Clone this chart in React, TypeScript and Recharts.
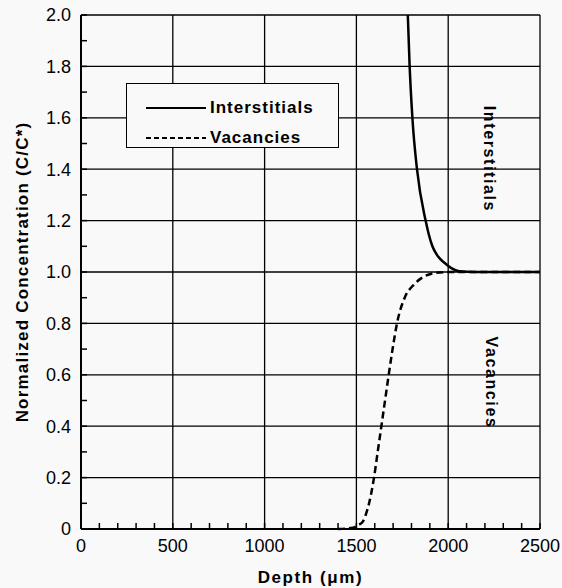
import { LineChart, Line, XAxis, YAxis, CartesianGrid, Legend, ReferenceDot } from "recharts";

// depth in um, concentration normalised to C*
const interDepth = [1780, 1790, 1805, 1830, 1877, 1893, 1914, 1945, 1981, 2017, 2060, 2150, 2500];
const interConc = [2.0, 1.8, 1.6, 1.4, 1.2, 1.15, 1.1, 1.06, 1.035, 1.015, 1.003, 1.0, 1.0];

const vacDepth = [1400, 1480, 1510, 1536, 1553, 1569, 1596, 1616, 1636, 1656, 1676, 1697, 1721, 1763, 1812, 1863, 1920, 2000, 2500];
const vacConc = [0, 0.005, 0.015, 0.03, 0.06, 0.1, 0.2, 0.3, 0.4, 0.5, 0.6, 0.7, 0.8, 0.9, 0.95, 0.98, 0.995, 1.0, 1.0];

const xMajor = [0, 500, 1000, 1500, 2000, 2500];
const yMajor = [0, 0.2, 0.4, 0.6, 0.8, 1.0, 1.2, 1.4, 1.6, 1.8, 2.0];
const xMinor = [0, 100, 200, 300, 400, 500, 600, 700, 800, 900, 1000, 1100, 1200, 1300, 1400, 1500, 1600, 1700, 1800, 1900, 2000, 2100, 2200, 2300, 2400, 2500];
const yMinor = [0, 0.1, 0.2, 0.3, 0.4, 0.5, 0.6, 0.7, 0.8, 0.9, 1.0, 1.1, 1.2, 1.3, 1.4, 1.5, 1.6, 1.7, 1.8, 1.9, 2.0];

const interData = interDepth.map((d, i) => ({ depth: d, value: interConc[i] }));
const vacData = vacDepth.map((d, i) => ({ depth: d, value: vacConc[i] }));

const isMajor = (v: number, list: number[]) => list.some((m) => Math.abs(m - v) < 1e-6);

const XTitle = ({ viewBox }: any) => (
  <text
    x={viewBox.x + viewBox.width / 2}
    y={577}
    textAnchor="middle"
    dominantBaseline="central"
    fontSize={17}
    fontWeight="bold"
    letterSpacing={1.6}
    fill="#000"
  >
    Depth (μm)
  </text>
);

const YTitle = ({ viewBox }: any) => {
  const cx = 22;
  const cy = viewBox.y + viewBox.height / 2;
  return (
    <text
      x={cx}
      y={cy}
      transform={`rotate(-90 ${cx} ${cy})`}
      textAnchor="middle"
      dominantBaseline="central"
      fontSize={17}
      fontWeight="bold"
      letterSpacing={1.2}
      fill="#000"
    >
      Normalized Concentration (C/C*)
    </text>
  );
};

const SideLabel = ({ viewBox, text }: any) => {
  const cx = viewBox.x + viewBox.width / 2;
  const cy = viewBox.y + viewBox.height / 2;
  return (
    <text
      x={cx}
      y={cy}
      transform={`rotate(90 ${cx} ${cy})`}
      textAnchor="middle"
      dominantBaseline="central"
      fontSize={16}
      fontWeight="bold"
      letterSpacing={1.6}
      fill="#000"
    >
      {text}
    </text>
  );
};

const LegendBox = ({ payload }: any) => (
  <div
    style={{
      border: "1.5px solid #000",
      background: "#f8f9f8",
      width: 213,
      height: 65,
      boxSizing: "border-box",
      paddingTop: 9,
    }}
  >
    {(payload || []).map((entry: any) => (
      <div key={entry.value} style={{ display: "flex", alignItems: "center", height: 30 }}>
        <svg width={80} height={6}>
          <line
            x1={19}
            x2={79}
            y1={3}
            y2={3}
            stroke="#000"
            strokeWidth={2}
            strokeDasharray={entry.payload && entry.payload.strokeDasharray ? "5 3" : undefined}
          />
        </svg>
        <span style={{ fontSize: 17, fontWeight: "bold", letterSpacing: 1, marginLeft: 3 }}>{entry.value}</span>
      </div>
    ))}
  </div>
);

export default function App() {
  return (
    <div
      style={{
        position: "absolute",
        left: 0,
        top: 0,
        width: 562,
        height: 588,
        background: "#f8f9f8",
        fontFamily: "'Liberation Sans', Arial, sans-serif",
      }}
    >
      <LineChart width={562} height={588} margin={{ top: 15, right: 22, left: 0, bottom: 0 }}>
        <CartesianGrid stroke="#000" strokeWidth={1.3} verticalValues={xMajor} horizontalValues={yMajor} />
        <XAxis
          type="number"
          dataKey="depth"
          domain={[0, 2500]}
          ticks={xMinor}
          interval={0}
          height={59}
          tickSize={-6}
          tickMargin={16}
          tickFormatter={(v: number) => (isMajor(v, xMajor) ? String(v) : "")}
          tick={{ fontSize: 18, fill: "#000" }}
          tickLine={{ stroke: "#000", strokeWidth: 1.5 }}
          axisLine={{ stroke: "#000", strokeWidth: 2 }}
          label={<XTitle />}
        />
        <XAxis
          xAxisId="top"
          orientation="top"
          type="number"
          domain={[0, 2500]}
          ticks={xMinor}
          interval={0}
          height={0}
          tickSize={-6}
          tick={false}
          tickLine={{ stroke: "#000", strokeWidth: 1.5 }}
          axisLine={{ stroke: "#000", strokeWidth: 2 }}
        />
        <YAxis
          type="number"
          domain={[0, 2]}
          ticks={yMinor}
          interval={0}
          width={81}
          tickSize={-6}
          tickMargin={16}
          tickFormatter={(v: number) => (isMajor(v, yMajor) ? (v === 0 ? "0" : v.toFixed(1)) : "")}
          tick={{ fontSize: 18, fill: "#000" }}
          tickLine={{ stroke: "#000", strokeWidth: 1.5 }}
          axisLine={{ stroke: "#000", strokeWidth: 2 }}
          label={<YTitle />}
        />
        <YAxis
          yAxisId="right"
          orientation="right"
          type="number"
          domain={[0, 2]}
          ticks={yMinor}
          interval={0}
          width={0}
          tickSize={-6}
          tick={false}
          tickLine={{ stroke: "#000", strokeWidth: 1.5 }}
          axisLine={{ stroke: "#000", strokeWidth: 2 }}
        />
        <Legend
          layout="horizontal"
          verticalAlign="middle"
          align="center"
          content={<LegendBox />}
          wrapperStyle={{ left: 126, top: 83, width: 213, height: 65 }}
        />
        <Line
          data={interData}
          dataKey="value"
          name="Interstitials"
          type="monotone"
          stroke="#000"
          strokeWidth={2.5}
          dot={false}
          isAnimationActive={false}
        />
        <Line
          data={vacData}
          dataKey="value"
          name="Vacancies"
          type="monotone"
          stroke="#000"
          strokeWidth={2.5}
          strokeDasharray="7 4"
          dot={false}
          isAnimationActive={false}
        />
        <ReferenceDot x={2226} y={1.44} r={0} stroke="none" fill="none" label={<SideLabel text="Interstitials" />} />
        <ReferenceDot x={2235} y={0.57} r={0} stroke="none" fill="none" label={<SideLabel text="Vacancies" />} />
      </LineChart>
    </div>
  );
}
